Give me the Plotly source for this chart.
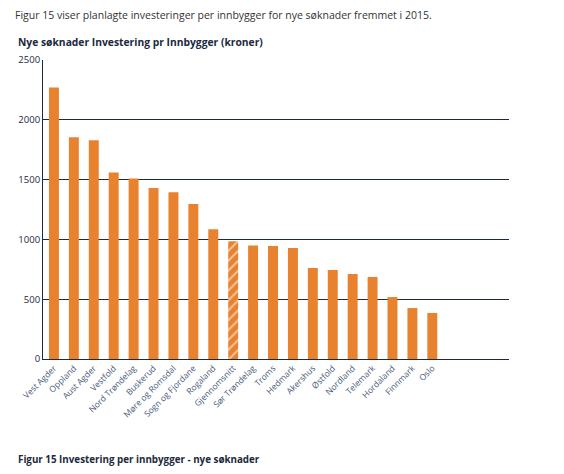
import plotly.graph_objects as go

categories = ["Vest Agder", "Oppland", "Aust Agder", "Vestfold", "Nord Trøndelag", "Buskerud",
              "Møre og Romsdal", "Sogn og Fjordane", "Rogaland", "Gjennomsnitt", "Sør Trøndelag",
              "Troms", "Hedmark", "Akershus", "Østfold", "Nordland", "Telemark", "Hordaland",
              "Finnmark", "Oslo"]
values = [2270, 1855, 1830, 1560, 1510, 1430, 1395, 1295, 1085, 985, 950,
          945, 928, 760, 744, 711, 686, 518, 426, 385]
tick_values = [0, 500, 1000, 1500, 2000, 2500]
highlight = "Gjennomsnitt"

ORANGE = "#E8822E"
NAVY = "#1B2A3C"
LABEL = "#4A5B7C"

shapes = ["/" if c == highlight else "" for c in categories]

fig = go.Figure(go.Bar(
    x=categories, y=values,
    width=0.5,
    marker=dict(color=ORANGE, line=dict(width=0),
                pattern=dict(shape=shapes, fgcolor="white", bgcolor=ORANGE,
                             size=7, solidity=0.3, fillmode="overlay")),
))

fig.update_layout(
    width=564, height=474,
    margin=dict(l=35, r=63, t=52, b=123),
    paper_bgcolor="white", plot_bgcolor="white",
    font=dict(family="Open Sans", color=NAVY),
    showlegend=False,
    bargap=0.5,
    annotations=[
        dict(text="Figur 15 viser planlagte investeringer per innbygger for nye søknader fremmet i 2015.",
             xref="paper", yref="paper", x=-0.064, y=1.0, xanchor="left", yanchor="middle",
             yshift=45, showarrow=False, font=dict(size=10.5, color="#333333")),
        dict(text="<b>Nye søknader Investering pr Innbygger (kroner)</b>",
             xref="paper", yref="paper", x=-0.058, y=1.0, xanchor="left", yanchor="middle",
             yshift=18, showarrow=False, font=dict(size=10.3, color=NAVY)),
        dict(text="<b>Figur 15 Investering per innbygger - nye søknader</b>",
             xref="paper", yref="paper", x=-0.058, y=0, xanchor="left", yanchor="middle",
             yshift=-100, showarrow=False, font=dict(size=9.8, color=NAVY)),
    ],
)

fig.update_xaxes(
    range=[-0.55, 22.85],
    tickangle=-45, tickfont=dict(size=8.5, color=LABEL),
    showgrid=False, showline=True, linecolor=NAVY, linewidth=1,
    ticks="", automargin=False,
)
fig.update_yaxes(
    range=[0, 2500], tickvals=tick_values,
    tickfont=dict(size=9.5, color=NAVY),
    showgrid=True, gridcolor=NAVY, gridwidth=1,
    showline=True, linecolor=NAVY, linewidth=1,
    zeroline=False, ticks="", ticklen=0, automargin=False,
)

fig.write_html("out.html")
